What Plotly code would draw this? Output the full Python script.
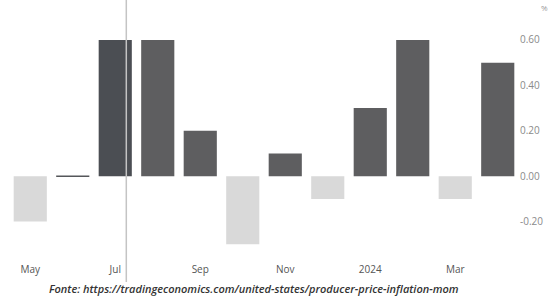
import plotly.graph_objects as go

categories = ["May 2023", "Jun 2023", "Jul 2023", "Aug 2023", "Sep 2023", "Oct 2023",
              "Nov 2023", "Dec 2023", "Jan 2024", "Feb 2024", "Mar 2024", "Apr 2024"]
values = [-0.2, 0.0, 0.6, 0.6, 0.2, -0.3, 0.1, -0.1, 0.3, 0.6, -0.1, 0.5]
tick_cats = ["May 2023", "Jul 2023", "Sep 2023", "Nov 2023", "Jan 2024", "Mar 2024"]
tick_labels = ["May", "Jul", "Sep", "Nov", "2024", "Mar"]
y_ticks = [-0.2, 0.0, 0.2, 0.4, 0.6]
y_tick_labels = ["-0.20", "0.00", "0.20", "0.40", "0.60"]
highlight = "Jul 2023"
source = "Fonte: https://tradingeconomics.com/united-states/producer-price-inflation-mom"

colors = []
line_w = []
for c, v in zip(categories, values):
    if c == highlight:
        colors.append("#4b4e53")
    elif v >= 0:
        colors.append("#5e5e60")
    else:
        colors.append("#d9d9d9")
    line_w.append(1.5 if v == 0 else 0)

fig = go.Figure(go.Bar(
    x=categories, y=values,
    marker=dict(color=colors, line=dict(color="#55575a", width=line_w)),
    hoverinfo="skip",
))

fig.update_layout(
    width=554, height=299,
    margin=dict(l=9, r=35, t=15, b=44, autoexpand=False),
    paper_bgcolor="white", plot_bgcolor="white",
    bargap=0.22, showlegend=False,
    font=dict(family="Open Sans", size=10, color="#666"),
    xaxis=dict(
        tickmode="array", tickvals=tick_cats, ticktext=tick_labels,
        showgrid=False, zeroline=False, showline=False, ticks="",
        tickfont=dict(size=10, color="#555"), automargin=False,
        ticklabelstandoff=7,
    ),
    yaxis=dict(
        side="right", range=[-0.347, 0.71],
        tickmode="array", tickvals=y_ticks, ticktext=y_tick_labels,
        showgrid=False, zeroline=False, showline=False, ticks="",
        tickfont=dict(size=10, color="#8a8a8a"), automargin=False,
    ),
)

# cursor line
fig.add_shape(type="line", xref="x", yref="paper",
              x0=2.26, x1=2.26, y0=-0.1125, y1=1.0625,
              line=dict(color="#c4c4c4", width=1.5), layer="above")

fig.add_annotation(text="%", xref="paper", yref="paper", x=1.05, y=1.03,
                   showarrow=False, xanchor="center", yanchor="middle",
                   font=dict(size=8, color="#999"))
fig.add_annotation(text=source, xref="paper", yref="paper", x=0.48, y=-0.138,
                   showarrow=False, xanchor="center", yanchor="middle",
                   font=dict(family="Open Sans", size=11, color="#333",
                             style="italic", weight=600))

fig.write_html("out.html", config={"displayModeBar": False},
               post_script="document.body.style.margin='0';")
